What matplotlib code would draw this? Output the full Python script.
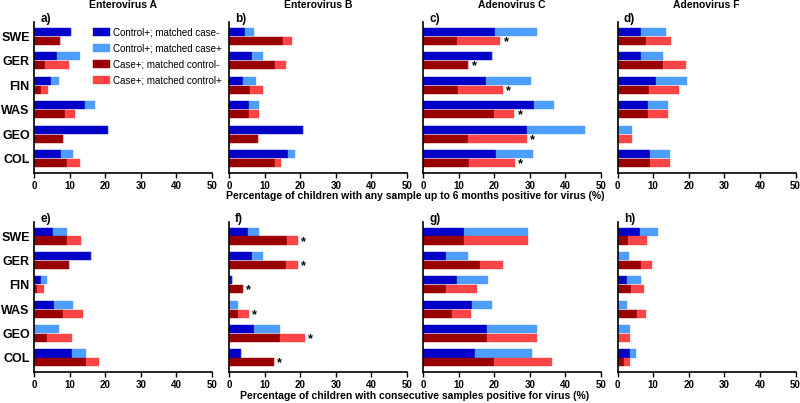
import matplotlib
matplotlib.use("Agg")
import matplotlib.pyplot as plt
import numpy as np

plt.rcParams['font.family'] = ['Liberation Sans', 'DejaVu Sans']

countries = ["SWE", "GER", "FIN", "WAS", "GEO", "COL"]
titles = ["Enterovirus A", "Enterovirus B", "Adenovirus C", "Adenovirus F"]
panel_labels = ["a)", "b)", "c)", "d)", "e)", "f)", "g)", "h)"]
legend_labels = ["Control+; matched case-", "Control+; matched case+",
                 "Case+; matched control-", "Case+; matched control+"]
xlabel_top = "Percentage of children with any sample up to 6 months positive for virus (%)"
xlabel_bottom = "Percentage of children with consecutive samples positive for virus (%)"

# per panel: control-only (dark blue), control total (blue end), case-only (dark red), case total (red end)
ctrl_only = {
    "a": [10.5, 6.5, 4.9, 14.3, 20.8, 7.5],
    "b": [4.6, 6.4, 3.8, 5.5, 20.7, 16.6],
    "c": [20.2, 19.3, 17.7, 31.3, 29.2, 20.5],
    "d": [6.5, 6.5, 10.7, 8.5, 0.0, 9.2],
    "e": [5.4, 16.0, 1.9, 5.6, 0.0, 10.8],
    "f": [5.4, 6.4, 0.8, 0.0, 7.0, 3.4],
    "g": [11.5, 6.4, 9.6, 13.8, 17.9, 14.6],
    "h": [6.2, 0.0, 2.8, 0.0, 0.0, 3.6],
}
ctrl_total = {
    "a": [10.5, 12.9, 6.9, 17.1, 20.8, 11.0],
    "b": [7.0, 9.5, 7.5, 8.4, 20.7, 18.4],
    "c": [32.1, 19.3, 30.3, 36.9, 45.6, 30.9],
    "d": [13.6, 12.7, 19.6, 14.2, 4.1, 14.7],
    "e": [9.3, 16.0, 3.7, 11.0, 7.0, 14.5],
    "f": [8.3, 9.5, 0.8, 2.6, 14.2, 3.4],
    "g": [29.4, 12.5, 18.2, 19.3, 32.0, 30.7],
    "h": [11.5, 3.1, 6.6, 2.6, 3.4, 5.3],
}
case_only = {
    "a": [7.3, 3.2, 2.0, 8.7, 8.2, 9.3],
    "b": [15.1, 12.9, 5.8, 5.5, 8.2, 12.9],
    "c": [9.6, 12.7, 9.8, 20.0, 12.5, 13.0],
    "d": [8.0, 12.7, 8.8, 8.5, 0.0, 9.2],
    "e": [9.3, 9.7, 0.9, 8.2, 3.6, 14.6],
    "f": [16.3, 16.0, 3.8, 2.6, 14.3, 12.6],
    "g": [11.5, 16.1, 6.6, 8.2, 17.9, 20.0],
    "h": [3.0, 6.5, 3.8, 5.5, 0.0, 1.8],
}
case_total = {
    "a": [7.3, 9.7, 3.9, 11.5, 8.2, 12.9],
    "b": [17.6, 15.9, 9.6, 8.4, 8.2, 14.6],
    "c": [21.6, 12.7, 22.4, 25.6, 29.1, 25.8],
    "d": [15.1, 19.3, 17.4, 14.2, 4.1, 14.7],
    "e": [13.2, 9.7, 2.8, 13.8, 10.7, 18.2],
    "f": [19.3, 19.3, 3.8, 5.5, 21.3, 12.6],
    "g": [29.4, 22.5, 15.3, 13.5, 32.0, 36.3],
    "h": [8.3, 9.6, 7.5, 8.1, 3.4, 3.5],
}
stars = {
    "a": [], "b": [], "c": ["SWE", "GER", "FIN", "WAS", "GEO", "COL"], "d": [],
    "e": [], "f": ["SWE", "GER", "FIN", "WAS", "GEO", "COL"], "g": [], "h": [],
}

C_DB = "#0000c8"
C_LB = "#4d9eff"
C_DR = "#990000"
C_LR = "#ff4545"

fig = plt.figure(figsize=(8.0, 4.03), dpi=100)

lefts = [34, 229, 423, 617.5]
width_px = 178
rows = [(22, 173), (222, 372)]
W, H = 800, 403
keys = ["a", "b", "c", "d", "e", "f", "g", "h"]

y = np.arange(len(countries))
bh = 0.33
off = 0.18

axes = []
for r, (top, bot) in enumerate(rows):
    for c in range(4):
        k = keys[r * 4 + c]
        hpx = bot - top
        ax = fig.add_axes([lefts[c] / W, 1 - bot / H, width_px / W, hpx / H])
        axes.append(ax)
        co = np.array(ctrl_only[k]); ct = np.array(ctrl_total[k])
        ca = np.array(case_only[k]); cat = np.array(case_total[k])
        ax.barh(y - off, co, height=bh, color=C_DB, edgecolor=C_DB, linewidth=0.3, label=legend_labels[0])
        ax.barh(y - off, ct - co, left=co, height=bh, color=C_LB, edgecolor=C_LB, linewidth=0.3, label=legend_labels[1])
        ax.barh(y + off, ca, height=bh, color=C_DR, edgecolor=C_DR, linewidth=0.3, label=legend_labels[2])
        ax.barh(y + off, cat - ca, left=ca, height=bh, color=C_LR, edgecolor=C_LR, linewidth=0.3, label=legend_labels[3])
        for cname in stars[k]:
            i = countries.index(cname)
            ax.text(cat[i] + 1.0, y[i] + off + 0.05, "*", fontsize=9, fontweight='bold',
                    ha='left', va='center', color='black')
        ax.set_xlim(0, 50)
        ax.set_ylim(5.58, -0.58)
        ax.set_xticks(np.arange(0, 51, 10))
        ax.tick_params(axis='x', which='major', length=3.5, width=1.0, labelsize=7, pad=2)
        for lbl in ax.get_xticklabels():
            lbl.set_fontweight('bold')
        if c == 0:
            ax.set_yticks(y)
            ax.set_yticklabels(countries, fontsize=9, fontweight='bold')
            ax.tick_params(axis='y', length=0, pad=3)
        else:
            ax.set_yticks([])
        for s in ['top', 'right']:
            ax.spines[s].set_visible(False)
        ax.spines['left'].set_linewidth(1.2)
        ax.spines['bottom'].set_linewidth(1.2)
        ax.text(0.035, 1 + 3.0 / hpx, panel_labels[r * 4 + c], transform=ax.transAxes,
                fontsize=8.5, fontweight='bold', ha='left', va='center')
        if r == 0:
            ax.set_title(titles[c], fontsize=7.5, fontweight='bold', pad=10)

leg = axes[0].legend(loc='upper left', bbox_to_anchor=(0.31, 0.99), frameon=False,
                     fontsize=7, handlelength=1.7, handleheight=0.9, labelspacing=0.62,
                     handletextpad=0.35, borderaxespad=0)

fig.text(415 / W, 1 - 196 / H, xlabel_top, ha='center', va='center', fontsize=7.5, fontweight='bold')
fig.text(415 / W, 1 - 396 / H, xlabel_bottom, ha='center', va='center', fontsize=7.5, fontweight='bold')

fig.savefig("out.png", dpi=100)
